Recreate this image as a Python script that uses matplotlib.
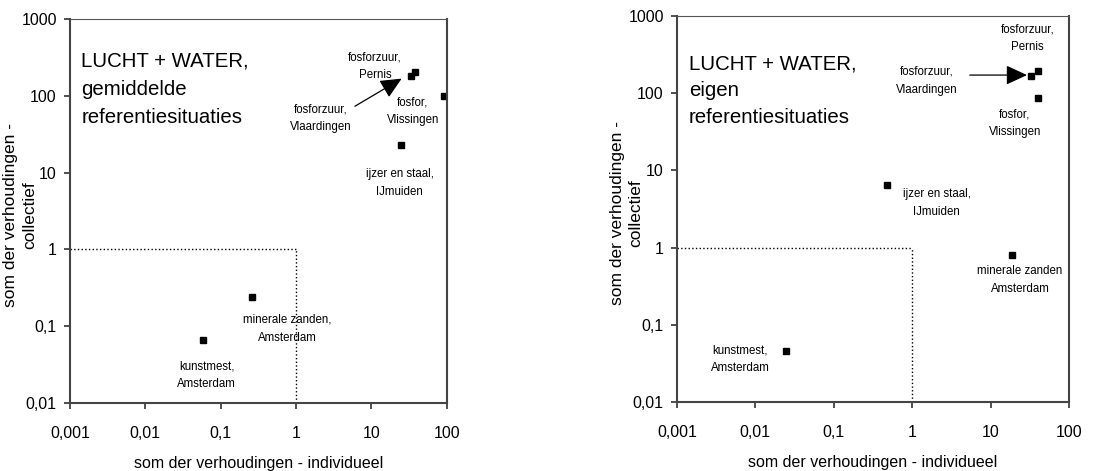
import matplotlib.pyplot as plt

plt.rcParams['font.family'] = ['Liberation Sans', 'DejaVu Sans']

# tick values and their Dutch labels
x_ticks = [0.001, 0.01, 0.1, 1, 10, 100]
x_ticklabels = ['0,001', '0,01', '0,1', '1', '10', '100']
y_ticks = [0.01, 0.1, 1, 10, 100, 1000]
y_ticklabels = ['0,01', '0,1', '1', '10', '100', '1000']

# gemiddelde referentiesituaties
names_gem = ['fosforzuur,\nPernis', 'fosforzuur,\nVlaardingen', 'fosfor,\nVlissingen',
             'ijzer en staal,\nIJmuiden', 'minerale zanden,\nAmsterdam', 'kunstmest,\nAmsterdam']
indiv_gem = [38, 33, 91, 24.6, 0.26, 0.058]
coll_gem = [205, 182, 100, 22.9, 0.24, 0.066]

# eigen referentiesituaties
names_eig = ['fosforzuur,\nPernis', 'fosforzuur,\nVlaardingen', 'fosfor,\nVlissingen',
             'ijzer en staal,\nIJmuiden', 'minerale zanden\nAmsterdam', 'kunstmest,\nAmsterdam']
indiv_eig = [40, 33, 40, 0.48, 18.6, 0.0245]
coll_eig = [195, 167, 87, 6.5, 0.8, 0.046]

# label placement (axes fraction), one per point
pos_gem = [(0.809, 0.878), (0.666, 0.742), (0.910, 0.760),
           (0.875, 0.573), (0.576, 0.193), (0.363, 0.073)]
pos_eig = [(0.895, 0.943), (0.638, 0.832), (0.862, 0.723),
           (0.663, 0.516), (0.875, 0.316), (0.161, 0.111)]

fig = plt.figure(figsize=(11.02, 4.71), dpi=100)
ax1 = fig.add_axes([0.0635, 0.1444, 0.342, 0.815])
ax2 = fig.add_axes([0.6143, 0.1465, 0.3557, 0.8195])

panels = [
    (ax1, indiv_gem, coll_gem, names_gem, pos_gem,
     'LUCHT + WATER,\ngemiddelde\nreferentiesituaties', 0.915, 1.6,
     ((0.756, 0.773), (0.880, 0.845)), -0.088),
    (ax2, indiv_eig, coll_eig, names_eig, pos_eig,
     'LUCHT + WATER,\neigen\nreferentiesituaties', 0.900, 1.5,
     ((0.747, 0.847), (0.893, 0.847)), -0.085),
]

for ax, xs, ys, names, pos, title, title_y, title_ls, arrow, ylab_x in panels:
    ax.set_xscale('log')
    ax.set_yscale('log')
    ax.set_xlim(0.001, 100)
    ax.set_ylim(0.01, 1000)
    ax.set_xticks(x_ticks)
    ax.set_xticklabels(x_ticklabels)
    ax.set_yticks(y_ticks)
    ax.set_yticklabels(y_ticklabels)
    ax.minorticks_off()
    ax.tick_params(axis='both', direction='out', length=4.5, width=1.2, labelsize=11.5,
                   color='#333333')
    ax.tick_params(axis='x', pad=12)
    ax.tick_params(axis='y', pad=5)

    for side in ['left', 'bottom', 'right']:
        ax.spines[side].set_linewidth(1.5)
        ax.spines[side].set_color('#444444')
    ax.spines['top'].set_linewidth(0.8)
    ax.spines['top'].set_color('#555555')

    # dotted box marking the region below 1
    ax.plot([0.001, 1], [1, 1], linestyle=':', color='black', linewidth=1)
    ax.plot([1, 1], [0.01, 1], linestyle=':', color='black', linewidth=1)

    ax.plot(xs, ys, linestyle='none', marker='s', markersize=4.5, color='black')

    for name, (px, py) in zip(names, pos):
        ax.text(px, py, name, transform=ax.transAxes, ha='center', va='center',
                fontsize=8.3, linespacing=1.65)

    ax.text(0.03, title_y, title, transform=ax.transAxes, ha='left', va='top',
            fontsize=14.7, linespacing=title_ls)

    (tx, ty), (hx, hy) = arrow
    ax.annotate('', xy=(hx, hy), xycoords='axes fraction',
                xytext=(tx, ty), textcoords='axes fraction',
                arrowprops=dict(arrowstyle='-|>,head_length=1.3,head_width=0.6',
                                color='black', linewidth=0.9, shrinkA=0, shrinkB=0))

    ax.set_xlabel('som der verhoudingen - individueel', fontsize=11.5)
    ax.set_ylabel('som der verhoudingen -\ncollectief', fontsize=12.5, linespacing=1.3)
    ax.xaxis.set_label_coords(0.5, -0.138)
    ax.yaxis.set_label_coords(ylab_x, 0.49)

fig.savefig('out.png', dpi=100)
